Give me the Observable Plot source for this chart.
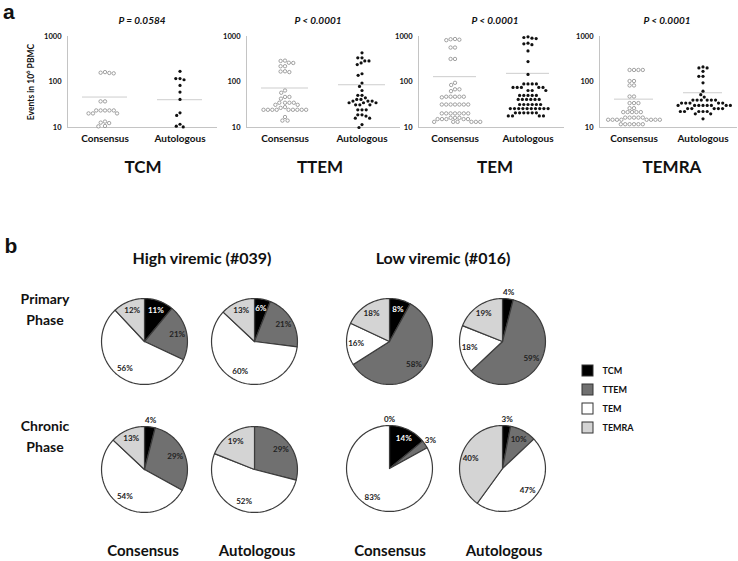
<!DOCTYPE html>
<html><head><meta charset="utf-8">
<script src="https://cdn.jsdelivr.net/npm/d3@7"></script>
<script src="https://cdn.jsdelivr.net/npm/@observablehq/plot@0.6"></script>
<style>
body{margin:0;background:#fff;}
#fig{position:relative;width:738px;height:561px;overflow:hidden;font-family:Lato,"Open Sans",sans-serif;color:#111;background:#fff;}
#fig svg{position:absolute;overflow:visible;}
.lbl{position:absolute;transform:translate(-50%,-50%);white-space:nowrap;line-height:1.2;font-weight:bold;}
</style></head><body><div id="fig"></div>
<script>
// ---------- panel a data ----------
const groups = ["Consensus", "Autologous"];
const panelTitles = ["TCM", "TTEM", "TEM", "TEMRA"];
const pValues = ["P = 0.0584", "P < 0.0001", "P < 0.0001", "P < 0.0001"];
const yTicks = [10, 100, 1000];

const tcmConsensus = [165, 160, 158, 155, 37.5, 37.5, 23.7, 23.7, 23.7, 23.7, 23.7, 20.4, 20.4, 20.4, 13.5, 12.8, 12.5, 10.8, 10.6];
const tcmAutologous = [172, 119, 119, 112, 84, 60, 41.5, 21, 18.4, 11.8, 10.7, 10.3];
const tcmMeans = [46.7, 40.8];

const ttemConsensus = [295, 290, 265, 262, 222, 222, 172, 170, 165, 65, 58, 47, 47, 43, 35, 35, 35, 35, 31.5, 31.5, 28, 27, 24.5, 24.5, 24.5, 24.5, 24.5, 24.5, 24.5, 24.5, 24.5, 17, 14.2, 14.2];
const ttemAutologous = [437, 340, 340, 290, 290, 262, 241, 152, 140, 95, 80, 65, 51, 51, 45, 41.5, 41.5, 38, 38, 38, 35, 35, 35, 31.5, 31.5, 31.5, 24.5, 24.5, 24.5, 19, 19, 17.8, 16, 16, 11.6, 10];
const ttemMeans = [73.8, 87];

const temConsensus = [880, 870, 850, 830, 572, 572, 321, 321, 96, 86, 69, 69, 63, 47.5, 47.5, 47.5, 47.5, 47.5, 46, 32, 32, 32, 32, 32, 32, 32, 20.4, 20.4, 20.4, 20.4, 20.4, 20.4, 20.4, 16.3, 16.3, 16.3, 15.3, 15.3, 15.3, 15.3, 15.3, 13.3, 13.3, 13.3, 13.3, 13.3, 13.3];
const temAutologous = [985, 950, 920, 900, 713, 690, 660, 483, 281, 147, 90.5, 90.5, 90.5, 90.5, 76, 76, 76, 76, 76, 65, 65, 65, 50.7, 50.7, 50.7, 50.7, 50.7, 41.5, 41.5, 41.5, 41.5, 41.5, 41.5, 32, 32, 32, 32, 32, 32, 26, 26, 26, 26, 26, 26, 26, 26, 26, 26, 21, 21, 21, 21, 21, 21, 18, 18, 18, 18];
const temMeans = [131, 155];

const temraConsensus = [184, 184, 184, 184, 105, 105, 84, 84, 48, 48, 34.4, 34.4, 34.4, 26.6, 26.6, 21.8, 21.8, 21.8, 21.8, 21.8, 16.5, 16.5, 16.5, 16.5, 16.5, 14.8, 14.8, 14.8, 14.8, 14.8, 14.8, 14.8, 14.8, 11.8, 11.8, 11.8, 11.8, 11.8, 11.8];
const temraAutologous = [214, 204, 204, 172, 133, 133, 96, 63, 52.6, 46.6, 40, 40, 40, 40, 40, 40, 34.4, 34.4, 34.4, 34.4, 34.4, 30.5, 30.5, 30.5, 30.5, 30.5, 30.5, 30.5, 30.5, 26, 26, 26, 26, 26, 22.5, 22.5, 22.5, 22.5, 22.5, 20, 20, 15.5];
const temraMeans = [42, 58];

// ---------- panel b data ----------
const cellTypes = ["TCM", "TTEM", "TEM", "TEMRA"];
const cellColors = ["#000000", "#707070", "#ffffff", "#d4d4d4"];
const patientTitles = ["High viremic (#039)", "Low viremic (#016)"];
const phaseLabels = [["Primary", "Phase"], ["Chronic", "Phase"]];
const highPrimaryConsensus = [11, 21, 56, 12];
const highPrimaryAutologous = [6, 21, 60, 13];
const highChronicConsensus = [4, 29, 54, 13];
const highChronicAutologous = [0, 29, 52, 19];
const lowPrimaryConsensus = [8, 58, 16, 18];
const lowPrimaryAutologous = [4, 59, 18, 19];
const lowChronicConsensus = [14, 3, 83, 0];
const lowChronicAutologous = [3, 10, 47, 40];
// which zero slices carry no printed label
const highChronicAutologousHidden = ["TCM"];

const fig = document.getElementById("fig");
const FONT = 'Lato, "Open Sans", sans-serif';

function addLabel(html, cx, cy, style) {
  const d = document.createElement("div");
  d.className = "lbl";
  d.innerHTML = html;
  d.style.left = cx + "px";
  d.style.top = cy + "px";
  Object.assign(d.style, style || {});
  fig.appendChild(d);
  return d;
}
function place(svg, left, top) {
  svg.style.left = left + "px";
  svg.style.top = top + "px";
  fig.appendChild(svg);
}

// ---------- dot panels ----------
function dotPanel(consVals, autoVals, meanVals, x0, w) {
  const ml = 30, mr = 4, mt = 36, mb = 24, h = 91;
  const cons = consVals.map(v => ({group: groups[0], v}));
  const auto = autoVals.map(v => ({group: groups[1], v}));
  const meanRows = groups.map((g, j) => ({group: g, v: meanVals[j]}));
  const svg = Plot.plot({
    width: ml + 2 * w + mr, height: mt + h + mb,
    marginLeft: ml, marginRight: mr, marginTop: mt, marginBottom: mb,
    style: {fontFamily: FONT, fontSize: "10px", fontWeight: "bold", color: "#111", background: "transparent", overflow: "visible"},
    x: {domain: [0, 1], axis: null},
    y: {type: "log", domain: [10, 1000]},
    fx: {domain: groups, padding: 0},
    marks: [
      Plot.ruleX([0], {x: d => d, fx: () => groups[0], stroke: "#c4c4c4"}),
      Plot.ruleY([10], {y: d => d, stroke: "#c4c4c4"}),
      Plot.ruleY(meanRows, {fx: "group", y: "v", stroke: "#cdcdcd", insetLeft: 15, insetRight: 15}),
      Plot.dot(cons, Plot.dodgeX("middle", {fx: "group", y: "v", r: 1.7, stroke: "#8c8c8c", fill: "white", strokeWidth: 0.8, padding: 0.5})),
      Plot.dot(auto, Plot.dodgeX("middle", {fx: "group", y: "v", r: 1.6, fill: "#111", padding: 1})),
      Plot.axisY({ticks: yTicks, tickFormat: d => String(d), tickSize: 0, tickPadding: 6, fontSize: 7.5, label: null}),
      Plot.axisFx({anchor: "bottom", tickSize: 0, tickPadding: 7, label: null, fontSize: 10})
    ]
  });
  place(svg, x0 - ml, 0);
}
const panelX = [67, 246, 418, 599];
const panelW = [75, 77, 73, 69];
dotPanel(tcmConsensus, tcmAutologous, tcmMeans, panelX[0], panelW[0]);
dotPanel(ttemConsensus, ttemAutologous, ttemMeans, panelX[1], panelW[1]);
dotPanel(temConsensus, temAutologous, temMeans, panelX[2], panelW[2]);
dotPanel(temraConsensus, temraAutologous, temraMeans, panelX[3], panelW[3]);

const pX = [142, 318, 495, 667];
const tX = [143, 320, 495, 672];
pValues.forEach((p, i) => addLabel(p, pX[i], 20, {fontSize: "10px", fontStyle: "italic"}));
panelTitles.forEach((t, i) => addLabel(t, tX[i], 167, {fontSize: "17px"}));
addLabel("Events in 10<sup style='font-size:6px'>6</sup> PBMC", 30, 82, {fontSize: "8.5px", transform: "translate(-50%,-50%) rotate(-90deg)"});
addLabel("a", 3, 0, {fontSize: "21px", lineHeight: "normal", transform: "none", fontFamily: '"Liberation Sans", Arial, sans-serif'});
addLabel("b", 11, 246, {fontSize: "21px", fontFamily: '"Liberation Sans", Arial, sans-serif'});

// ---------- pies ----------
function piePlot(values, cx, cy, hidden) {
  hidden = hidden || [];
  const S = 110, D = 1.28;
  const arcs = d3.pie().sort(null).value(d => d.value)(cellTypes.map((t, i) => ({type: t, value: values[i]})));
  const pts = [];
  const labs = [];
  for (const a of arcs) {
    const span = a.endAngle - a.startAngle;
    const mid = (a.startAngle + a.endAngle) / 2;
    if (!hidden.includes(a.data.type)) {
      const outside = a.data.value < 5;
      const rr = outside ? 1.15 : 0.78;
      labs.push({type: a.data.type, x: rr * Math.sin(mid), y: rr * Math.cos(mid), text: a.data.value + "%",
                 light: !outside && a.data.type === "TCM"});
    }
    if (span <= 0) continue;
    const n = Math.max(2, Math.ceil(span / (Math.PI / 90)));
    pts.push({type: a.data.type, x: 0, y: 0});
    for (let k = 0; k <= n; k++) {
      const t = a.startAngle + span * k / n;
      pts.push({type: a.data.type, x: Math.sin(t), y: Math.cos(t)});
    }
    pts.push({type: a.data.type, x: 0, y: 0});
  }
  const svg = Plot.plot({
    width: S, height: S, margin: 0,
    style: {fontFamily: FONT, fontWeight: "bold", background: "transparent", overflow: "visible"},
    x: {domain: [-D, D], axis: null},
    y: {domain: [-D, D], axis: null},
    color: {domain: cellTypes, range: cellColors},
    marks: [
      Plot.line(pts, {x: "x", y: "y", z: "type", fill: "type", stroke: "#3c3c3c", strokeWidth: 1.2, strokeLinejoin: "round"}),
      Plot.text(labs.filter(d => !d.light), {x: "x", y: "y", text: "text", fill: "#222", fontSize: 8}),
      Plot.text(labs.filter(d => d.light), {x: "x", y: "y", text: "text", fill: "#fff", fontSize: 8})
    ]
  });
  place(svg, cx - S / 2, cy - S / 2);
}
const pieCX = [144, 254, 389, 502];
const pieCY = [341, 469];
piePlot(highPrimaryConsensus, pieCX[0], pieCY[0]);
piePlot(highPrimaryAutologous, pieCX[1], pieCY[0]);
piePlot(lowPrimaryConsensus, pieCX[2], pieCY[0]);
piePlot(lowPrimaryAutologous, pieCX[3], pieCY[0]);
piePlot(highChronicConsensus, pieCX[0], pieCY[1]);
piePlot(highChronicAutologous, pieCX[1], pieCY[1], highChronicAutologousHidden);
piePlot(lowChronicConsensus, pieCX[2], 468);
piePlot(lowChronicAutologous, pieCX[3], 468);

addLabel(patientTitles[0], 202, 258, {fontSize: "16px"});
addLabel(patientTitles[1], 443, 258, {fontSize: "16px"});
addLabel(phaseLabels[0][0], 45, 299, {fontSize: "14px"});
addLabel(phaseLabels[0][1], 45, 320, {fontSize: "14px"});
addLabel(phaseLabels[1][0], 45, 426, {fontSize: "14px"});
addLabel(phaseLabels[1][1], 45, 447, {fontSize: "14px"});
[143, 257, 390, 504].forEach((x, i) => addLabel(groups[i % 2], x, 550, {fontSize: "15px"}));

// ---------- legend ----------
const legend = Plot.plot({
  width: 80, height: 85, marginLeft: 0, marginRight: 69, marginTop: 0, marginBottom: 0,
  style: {fontFamily: FONT, fontWeight: "bold", background: "transparent", overflow: "visible"},
  y: {domain: cellTypes, padding: 0.42},
  color: {domain: cellTypes, range: cellColors},
  marks: [
    Plot.cell(cellTypes, {y: d => d, fill: d => d, stroke: "#333", strokeWidth: 1}),
    Plot.axisY({anchor: "right", tickSize: 0, tickPadding: 9, fontSize: 9, label: null})
  ]
});
place(legend, 582, 357);
</script></body></html>
